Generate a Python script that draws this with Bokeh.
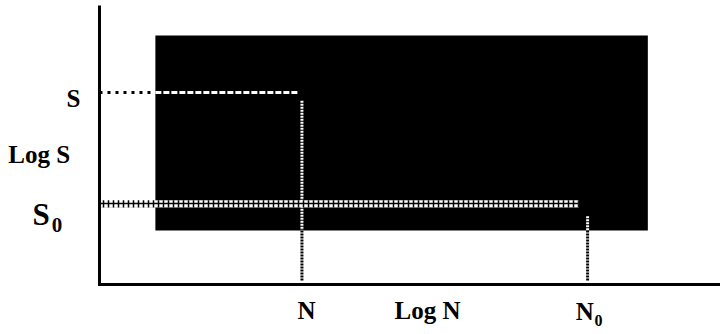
from bokeh.plotting import figure
from bokeh.models import Range1d
from bokeh.core.properties import value
from bokeh.embed import file_html
from bokeh.resources import INLINE

# ---- data (log scale units) ----
log_N = [3.26, 7.86]          # N, N0
log_S = [6.96, 2.92]          # S, S0
box_x = [0.90, 8.83]          # shaded region extent (log N)
box_y = [1.96, 9.02]          # shaded region extent (log S)
band_halfwidth = 0.13         # S0 band half thickness (log S)
band_end = 7.72               # S0 band end (log N)
axis_labels = ["Log S", "Log N"]
point_labels = ["S", "S", "N", "N"]
subscripts = ["0", "0"]

N, N0 = log_N
S, S0 = log_S

FONT = "Liberation Serif"

# frame spans the whole canvas; origin of the chart axes sits at (0, 0)
p = figure(width=720, height=334,
           x_range=Range1d(-1.594, 10.0), y_range=Range1d(-1.812, 10.29),
           output_backend="svg", toolbar_location=None,
           min_border=0)
p.outline_line_color = None
p.grid.visible = False
p.axis.visible = False
p.background_fill_color = "white"
p.border_fill_color = "white"

# shaded region
p.quad(left=box_x[0], right=box_x[1], bottom=box_y[0], top=box_y[1],
       fill_color="black", line_color=None)

# S guide: horizontal (black on white, white on black)
p.line([0, box_x[0]], [S, S], line_color="black", line_width=3, line_dash="3 5")
p.line([box_x[0], N], [S, S], line_color="white", line_width=3, line_dash="6 2")
# N guide: vertical
p.line([N, N], [S - 0.3, box_y[0]], line_color="white", line_width=3, line_dash="2 1")
p.line([N, N], [box_y[0], 0.14], line_color="black", line_width=3, line_dash="2 1")
p.scatter([N], [S], size=6, color="black")

# S0 band (checkered)
p.quad(left=0, right=band_end, bottom=S0 - band_halfwidth, top=S0 + band_halfwidth,
       fill_color="white", line_color=None, hatch_pattern="cross",
       hatch_color="black", hatch_scale=5, hatch_weight=1.5)
# N0 guide: vertical
p.line([N0, N0], [S0 - 0.45, box_y[0]], line_color="white", line_width=3, line_dash="2 1")
p.line([N0, N0], [box_y[0], 0.14], line_color="black", line_width=3, line_dash="2 1")

# chart axes (no ticks)
p.line([0, 0], [-0.05, 10.11], line_color="black", line_width=3)
p.line([-0.02, 10.0], [0, 0], line_color="black", line_width=3)

def lab(x, y, t, size):
    p.text(x=[x], y=[y], text=[t], text_font=value(FONT), text_font_style="bold",
           text_font_size=size, text_color="black",
           text_align="left", text_baseline="alphabetic")

# y-side labels
lab(-0.53, S - 0.22, point_labels[0], "25px")
lab(-1.47, 4.71, axis_labels[0], "25px")
lab(-1.08, S0 - 0.40, point_labels[1], "31px")
lab(-0.77, S0 - 0.75, subscripts[0], "21px")
# x-side labels
lab(N - 0.07, -0.94, point_labels[2], "25px")
lab(4.75, -0.94, axis_labels[1], "25px")
lab(N0 - 0.19, -0.98, point_labels[3], "25px")
lab(N0 + 0.11, -1.30, subscripts[1], "16px")

open("out.html", "w").write(file_html(p, INLINE))
